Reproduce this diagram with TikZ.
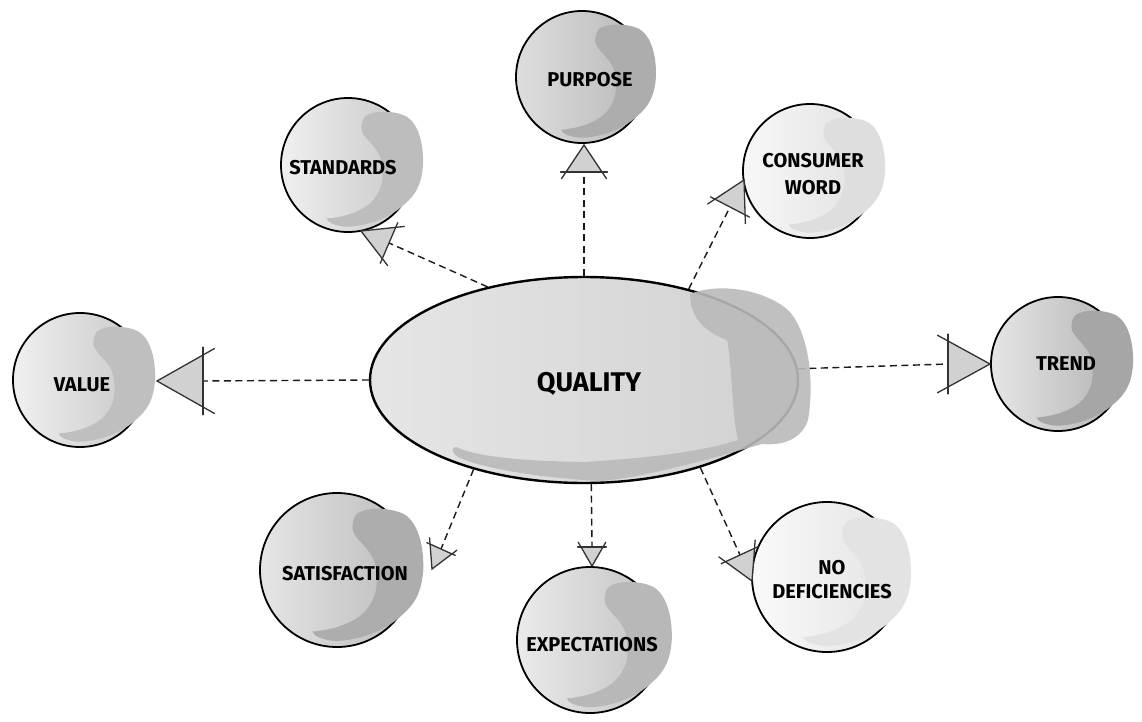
\documentclass[tikz,border=0pt]{standalone}
\usepackage{fontspec}
\setmainfont{Fira Sans}
\usetikzlibrary{shapes.geometric,calc}
\pgfdeclarelayer{bg}
\pgfsetlayers{bg,main}
\tikzset{
  ballbase/.style={circle, draw=black, line width=1.8pt, inner sep=0pt},
  lbl/.style={font=\fontsize{20}{27}\selectfont\bfseries, align=center, inner sep=0pt, text=black},
  conn/.style={draw=black!90, line width=1.4pt, dash pattern=on 7pt off 4.5pt},
  arrfill/.style={fill=black!18},
  arrline/.style={draw=black!80, line width=1.3pt, line cap=round},
}
% #1 name, #2 position, #3 radius, #4 left colour, #5 right colour, #6 blob colour
\newcommand\ball[6]{%
  \node[ballbase, minimum size={2*#3pt}, left color=#4, right color=#5] (#1) at (#2) {};
  \begin{scope}[shift={(#1.center)}, scale=#3]
    \fill[#6] (0.25,-0.72) .. controls (0.35,-0.82) and (0.7,-0.82) .. (0.88,-0.72)
      .. controls (1.06,-0.6) and (1.13,-0.3) .. (1.12,0)
      .. controls (1.1,0.3) and (1.0,0.45) .. (0.85,0.58)
      .. controls (0.6,0.82) and (0.2,0.93) .. (-0.05,0.92)
      .. controls (-0.2,0.9) and (-0.3,0.86) .. (-0.32,0.8)
      .. controls (-0.1,0.78) and (0.15,0.72) .. (0.32,0.58)
      .. controls (0.5,0.42) and (0.55,0.2) .. (0.5,-0.05)
      .. controls (0.45,-0.3) and (0.2,-0.4) .. (0.2,-0.55)
      .. controls (0.2,-0.62) and (0.22,-0.68) .. cycle;
  \end{scope}}
% #1 base coordinate, #2 tip coordinate, #3 half width
\newcommand\sarrow[3]{%
  \coordinate (sa-l) at ($(#1)!#3pt!90:(#2)$);
  \coordinate (sa-r) at ($(#1)!#3pt!-90:(#2)$);
  \coordinate (sa-ll) at ($(#1)!1.3*#3pt!90:(#2)$);
  \coordinate (sa-rr) at ($(#1)!1.3*#3pt!-90:(#2)$);
  \fill[arrfill] (sa-l) -- (#2) -- (sa-r) -- cycle;
  \draw[arrline] ($(#2)!1.25!(sa-l)$) -- (#2) -- ($(#2)!1.25!(sa-r)$);
  \draw[arrline] (sa-ll) -- (sa-rr);}
\begin{document}
\begin{tikzpicture}[x=1pt,y=-1pt]
\useasboundingbox (0,0) rectangle (1142,722);
\begin{pgfonlayer}{bg}
  \fill[white] (0,0) rectangle (1142,722);
\end{pgfonlayer}

% central ellipse
\node[ellipse, draw=black, line width=2.4pt, inner sep=0pt, minimum width=428pt, minimum height=206pt,
      left color=black!10, middle color=black!5, right color=black!18] (quality) at (584,380) {};
\fill[black!27, opacity=0.9] (690,294) .. controls (720,282) and (765,290) .. (788,310)
  .. controls (808,330) and (815,380) .. (808,420)
  .. controls (802,438) and (785,446) .. (762,444)
  .. controls (700,462) and (640,478) .. (600,481)
  .. controls (540,478) and (480,468) .. (458,457)
  .. controls (450,452) and (452,447) .. (456,447)
  .. controls (480,458) and (530,461) .. (583,462)
  .. controls (650,458) and (700,452) .. (738,440)
  .. controls (732,420) and (732,360) .. (727,340)
  .. controls (705,332) and (690,318) .. cycle;
\node[font=\fontsize{27}{30}\selectfont\bfseries, inner sep=0pt] (quality-t) at (589,384) {QUALITY};

% satellite balls
\ball{value}{80,380}{67}{black!6}{black!22}{black!25}
\ball{standards}{348,165}{67}{black!6}{black!22}{black!26}
\ball{purpose}{582,77}{66}{black!13}{black!28}{black!32}
\ball{consumer}{810,171}{67}{black!3}{black!12}{black!13}
\ball{trend}{1058,364}{67}{black!10}{black!30}{black!35}
\ball{nodef}{827,577}{75}{black!2}{black!11}{black!11}
\ball{expect}{590,640}{73}{black!8}{black!24}{black!28}
\ball{satis}{337,570}{77}{black!10}{black!27}{black!32}

\node[lbl] (value-t) at (82,385) {VALUE};
\node[lbl] (standards-t) at (343,168) {STANDARDS};
\node[lbl] (purpose-t) at (590,80) {PURPOSE};
\node[lbl] (consumer-t) at (813,174) {CONSUMER\\WORD};
\node[lbl] (trend-t) at (1066,364) {TREND};
\node[lbl, font=\fontsize{20}{24}\selectfont\bfseries] (nodef-t) at (832,580) {NO\\DEFICIENCIES};
\node[lbl] (expect-t) at (592,645) {EXPECTATIONS};
\node[lbl] (satis-t) at (345,574) {SATISFACTION};

% arrow base / tip coordinates
\coordinate (v-b) at (203,381);  \coordinate (v-t) at (157,381);
\coordinate (s-b) at (389,243);  \coordinate (s-t) at (361,231);
\coordinate (p-b) at (584,172);  \coordinate (p-t) at (584,145);
\coordinate (c-b) at (730,207);  \coordinate (c-t) at (744,180);
\coordinate (t-b) at (948,364);  \coordinate (t-t) at (990,364);
\coordinate (n-b) at (740,555);  \coordinate (n-t) at (752,581);
\coordinate (e-b) at (592,547);  \coordinate (e-t) at (592,566);
\coordinate (sa-b) at (441,549); \coordinate (sa-t) at (432,569);

\begin{pgfonlayer}{bg}
  \draw[conn] (quality.west) -- (v-b);
  \draw[conn] (quality.136) -- (s-b);
  \draw[conn] (quality.north) -- (p-b);
  \draw[conn] (quality.41) -- (c-b);
  \draw[conn] (quality.3) -- (t-b);
  \draw[conn] (quality.-37) -- (n-b);
  \draw[conn] (quality.-86) -- (e-b);
  \draw[conn] (quality.-141) -- (sa-b);
\end{pgfonlayer}

\sarrow{v-b}{v-t}{26}
\sarrow{s-b}{s-t}{17}
\sarrow{p-b}{p-t}{18}
\sarrow{c-b}{c-t}{17}
\sarrow{t-b}{t-t}{23}
\sarrow{n-b}{n-t}{16}
\sarrow{e-b}{e-t}{11}
\sarrow{sa-b}{sa-t}{12}
\end{tikzpicture}
\end{document}
